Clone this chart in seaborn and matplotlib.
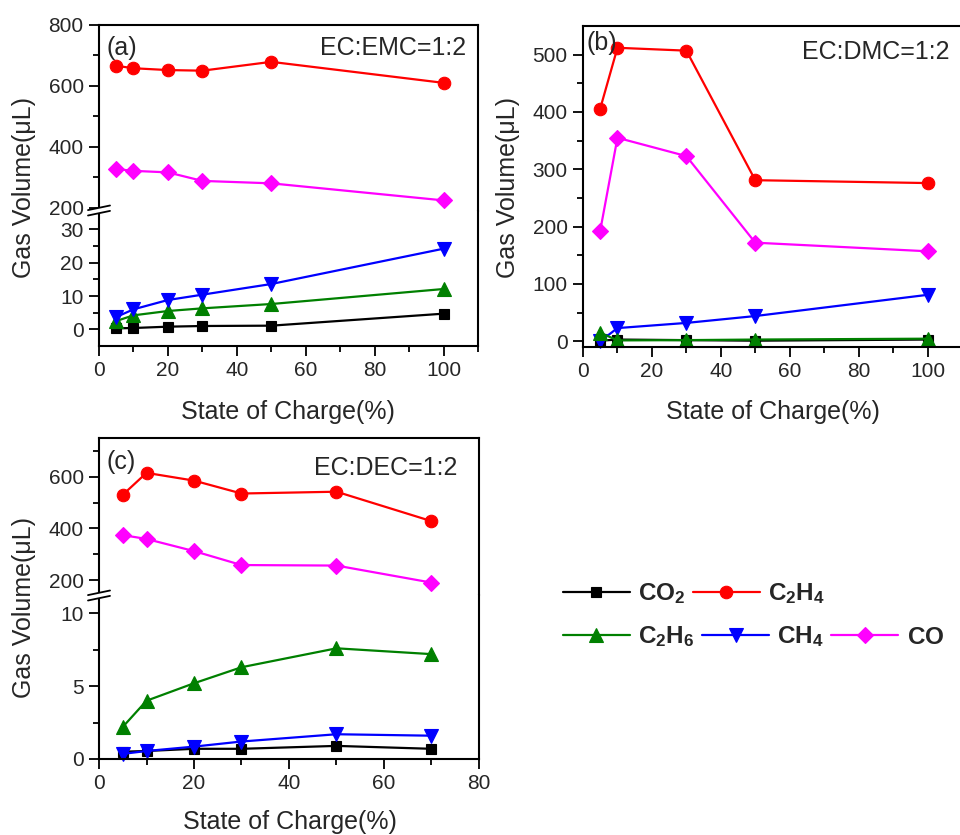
import numpy as np
import pandas as pd
import matplotlib
matplotlib.use("Agg")
import matplotlib.pyplot as plt
import seaborn as sns
from matplotlib.lines import Line2D
from matplotlib.patches import Polygon

sns.set_style("ticks")
plt.rcParams['font.family'] = ['Liberation Sans', 'DejaVu Sans']
plt.rcParams['mathtext.fontset'] = 'custom'
plt.rcParams['mathtext.rm'] = 'Liberation Sans'
plt.rcParams['mathtext.bf'] = 'Liberation Sans:bold'

# ---------------- data ----------------
gases = ["CO2", "C2H4", "C2H6", "CH4", "CO"]
gas_labels = [r'$\mathbf{CO_2}$', r'$\mathbf{C_2H_4}$', r'$\mathbf{C_2H_6}$',
              r'$\mathbf{CH_4}$', r'$\mathbf{CO}$']

a_x = [5, 10, 20, 30, 50, 100]
a_CO2 = [0.3, 0.4, 0.8, 1.0, 1.1, 4.7]
a_C2H4 = [666, 658, 652, 650, 679, 610]
a_C2H6 = [2.5, 4.2, 5.5, 6.3, 7.6, 12.1]
a_CH4 = [3.7, 6.0, 8.8, 10.4, 13.6, 24.2]
a_CO = [327, 321, 316, 288, 280, 224]

b_x = [5, 10, 30, 50, 100]
b_CO2 = [1, 3, 2, 1, 3]
b_C2H4 = [406, 512, 507, 281, 276]
b_C2H6 = [15, 1.5, 2, 3, 4.5]
b_CH4 = [0, 23, 32, 44, 81]
b_CO = [193, 355, 323, 172, 157]

c_x = [5, 10, 20, 30, 50, 70]
c_CO2 = [0.5, 0.55, 0.7, 0.7, 0.9, 0.7]
c_C2H4 = [530, 615, 585, 535, 542, 428]
c_C2H6 = [2.2, 4.0, 5.2, 6.3, 7.6, 7.2]
c_CH4 = [0.35, 0.55, 0.85, 1.2, 1.7, 1.6]
c_CO = [374, 359, 312, 258, 256, 190]

colors = {"CO2": "#000000", "C2H4": "#FF0000", "C2H6": "#008000",
          "CH4": "#0000FF", "CO": "#FF00FF"}
markers = {"CO2": "s", "C2H4": "o", "C2H6": "^", "CH4": "v", "CO": "D"}
msizes = {"CO2": 7.5, "C2H4": 9, "C2H6": 9.5, "CH4": 9.5, "CO": 8}

W, H = 960, 835
fig = plt.figure(figsize=(W / 100, H / 100), dpi=100)


def add_ax(l, t, r, b):
    return fig.add_axes([l / W, 1 - b / H, (r - l) / W, (b - t) / H])


def style(ax, top=False, bottom=False):
    for s in ax.spines.values():
        s.set_linewidth(1.5)
        s.set_color("black")
    ax.tick_params(which="both", direction="out", right=False, top=False,
                   labelsize=15, pad=4, width=1.3, color="black")
    ax.tick_params(which="major", length=7)
    ax.tick_params(which="minor", length=4)
    ax.set_xlabel("")
    ax.set_ylabel("")
    if top:
        ax.spines["bottom"].set_visible(False)
        ax.tick_params(axis="x", which="both", bottom=False, labelbottom=False)
    if bottom:
        ax.spines["top"].set_visible(False)


def draw(ax, x, y, gas):
    c = colors[gas]
    sns.lineplot(x=x, y=y, ax=ax, color=c, marker=markers[gas],
                 markersize=msizes[gas], markeredgecolor=c, markerfacecolor=c,
                 markeredgewidth=0.8, linewidth=1.6, clip_on=False,
                 label=gas, legend=False)


def break_marks(xp, yp):
    y1, y2 = yp - 2.7, yp + 2.7
    pts = [(xp - 11, y1 + 2.3), (xp + 11, y1 - 2.3), (xp + 11, y2 - 2.3), (xp - 11, y2 + 2.3)]
    poly = Polygon([(px / W, 1 - py / H) for px, py in pts], closed=True,
                   transform=fig.transFigure, facecolor="white", edgecolor="none", zorder=10)
    fig.add_artist(poly)
    for yy in (y1, y2):
        fig.add_artist(Line2D([(xp - 11) / W, (xp + 11) / W],
                              [1 - (yy + 2.3) / H, 1 - (yy - 2.3) / H],
                              transform=fig.transFigure, color="black", lw=1.3, zorder=11))


# ---------------- panel (a) ----------------
a_top = add_ax(99, 25, 478, 210.5)
a_bot = add_ax(99, 210.5, 478, 346)
draw(a_top, a_x, a_C2H4, "C2H4")
draw(a_top, a_x, a_CO, "CO")
draw(a_bot, a_x, a_CO2, "CO2")
draw(a_bot, a_x, a_C2H6, "C2H6")
draw(a_bot, a_x, a_CH4, "CH4")
for ax in (a_top, a_bot):
    ax.set_xlim(0, 110)
a_top.set_ylim(190.8, 800)
a_top.set_yticks([200, 400, 600, 800])
a_top.set_yticks([300, 500, 700], minor=True)
a_bot.set_ylim(-5, 35.66)
a_bot.set_yticks([0, 10, 20, 30])
a_bot.set_yticks([5, 15, 25], minor=True)
a_bot.set_xticks([0, 20, 40, 60, 80, 100])
a_bot.set_xticks([10, 30, 50, 70, 90, 110], minor=True)
style(a_top, top=True)
style(a_bot, bottom=True)
break_marks(99, 210.5)

# ---------------- panel (b) ----------------
b_ax = add_ax(583, 26, 962, 347)
draw(b_ax, b_x, b_CO2, "CO2")
draw(b_ax, b_x, b_C2H4, "C2H4")
draw(b_ax, b_x, b_CH4, "CH4")
draw(b_ax, b_x, b_C2H6, "C2H6")
draw(b_ax, b_x, b_CO, "CO")
b_ax.set_xlim(0, 110)
b_ax.set_ylim(-10, 550)
b_ax.set_yticks([0, 100, 200, 300, 400, 500])
b_ax.set_yticks([50, 150, 250, 350, 450], minor=True)
b_ax.set_xticks([0, 20, 40, 60, 80, 100])
b_ax.set_xticks([10, 30, 50, 70, 90], minor=True)
style(b_ax)

# ---------------- panel (c) ----------------
c_top = add_ax(99, 438, 479, 595)
c_bot = add_ax(99, 595, 479, 759)
draw(c_top, c_x, c_C2H4, "C2H4")
draw(c_top, c_x, c_CO, "CO")
draw(c_bot, c_x, c_CO2, "CO2")
draw(c_bot, c_x, c_C2H6, "C2H6")
draw(c_bot, c_x, c_CH4, "CH4")
for ax in (c_top, c_bot):
    ax.set_xlim(0, 80)
c_top.set_ylim(142, 750)
c_top.set_yticks([200, 400, 600])
c_top.set_yticks([300, 500, 700], minor=True)
c_bot.set_ylim(0, 11.26)
c_bot.set_yticks([0, 5, 10])
c_bot.set_yticks([2.5, 7.5], minor=True)
c_bot.set_xticks([0, 20, 40, 60, 80])
c_bot.set_xticks([10, 30, 50, 70], minor=True)
style(c_top, top=True)
style(c_bot, bottom=True)
break_marks(99, 595.5)

# ---------------- texts ----------------
def ftext(x, y, s, **kw):
    fig.text(x / W, 1 - y / H, s, **kw)

lab = dict(fontsize=18)
ftext(288, 412, "State of Charge(%)", ha="center", va="center", **lab)
ftext(773, 412, "State of Charge(%)", ha="center", va="center", **lab)
ftext(290, 822, "State of Charge(%)", ha="center", va="center", **lab)
ftext(24, 187, "Gas Volume(μL)", ha="center", va="center", rotation=90, **lab)
ftext(508, 187, "Gas Volume(μL)", ha="center", va="center", rotation=90, **lab)
ftext(24, 608, "Gas Volume(μL)", ha="center", va="center", rotation=90, **lab)

ftext(106, 48, "(a)", ha="left", va="center", **lab)
ftext(466, 48, "EC:EMC=1:2", ha="right", va="center", **lab)
ftext(587, 43, "(b)", ha="left", va="center", **lab)
ftext(950, 52, "EC:DMC=1:2", ha="right", va="center", **lab)
ftext(107, 462, "(c)", ha="left", va="center", **lab)
ftext(457, 468, "EC:DEC=1:2", ha="right", va="center", **lab)

# ---------------- legend ----------------
handles = {}
for ax in (a_top, a_bot):
    for ln in ax.get_lines():
        handles[ln.get_label()] = ln
lab_map = dict(zip(gases, gas_labels))
leg_kw = dict(loc="center left", frameon=False, borderpad=0, borderaxespad=0,
              handlelength=2.75, handletextpad=0.35, columnspacing=0.3,
              prop={"weight": "bold", "size": 17.5}, numpoints=1)
row1 = ["CO2", "C2H4"]
row2 = ["C2H6", "CH4", "CO"]
fig.legend([handles[g] for g in row1], [lab_map[g] for g in row1], ncol=2,
           bbox_to_anchor=(563 / W, 1 - 594 / H), **leg_kw)
fig.legend([handles[g] for g in row2], [lab_map[g] for g in row2], ncol=3,
           bbox_to_anchor=(563 / W, 1 - 637 / H), **leg_kw)

fig.savefig("out.png", dpi=100)
